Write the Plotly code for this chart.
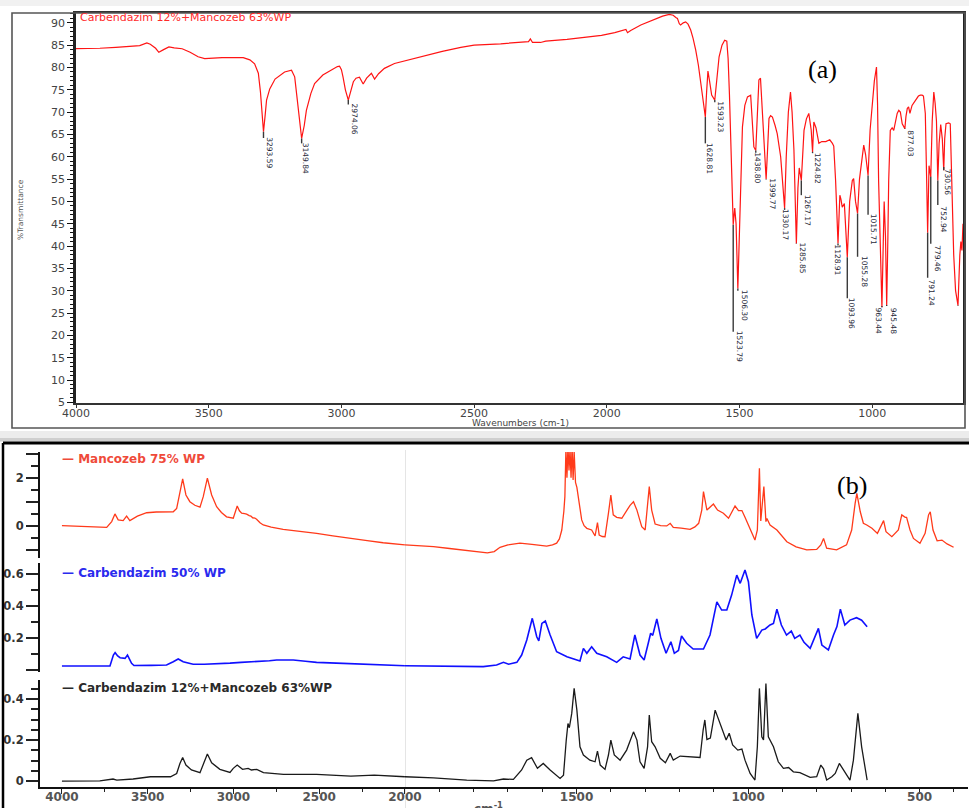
import plotly.graph_objects as go

W, H = 969, 808


def px(x):
    return x / W


def py(y):
    return 1 - y / H


# ---------------- panel (a): FTIR transmittance spectrum ----------------
a_title = "Carbendazim 12%+Mancozeb 63%WP"
a_wavenumber = [
    4000, 3950, 3910, 3850, 3800, 3760, 3733, 3720, 3700, 3688, 3670, 3650, 3630, 3600, 3570, 3540,
    3515, 3450, 3370, 3345, 3327, 3313, 3305, 3300, 3293.59, 3287, 3282, 3270, 3250, 3214, 3188, 3176,
    3168, 3163, 3149.84, 3140, 3132, 3115, 3101, 3070, 3040, 3015, 3007, 3000, 2994, 2985, 2974.06,
    2965, 2955, 2945, 2932, 2918, 2905, 2887, 2875, 2860, 2838, 2800, 2775, 2700, 2620, 2550, 2500,
    2400, 2330, 2295, 2288, 2280, 2250, 2230, 2150, 2080, 2020, 1970, 1935, 1928, 1922, 1910, 1872,
    1830, 1790, 1765, 1750, 1740, 1734, 1727, 1722, 1712, 1703, 1694, 1684, 1675, 1665, 1655, 1646,
    1638, 1628.81, 1624, 1619, 1613, 1605, 1593.23, 1585, 1577, 1566, 1556, 1548, 1543, 1538, 1533,
    1528, 1523.79, 1518, 1513, 1506.30, 1500, 1495, 1489, 1480, 1470, 1458, 1452, 1446, 1438.80, 1432,
    1427, 1421, 1415, 1408, 1399.77, 1394, 1389, 1383, 1376, 1366, 1358, 1345, 1338, 1330.17, 1324,
    1316, 1308, 1302, 1295, 1285.85, 1280, 1275, 1267.17, 1262, 1257, 1248, 1239, 1230, 1224.82, 1220,
    1212, 1201, 1190, 1175, 1160, 1150, 1145, 1138, 1128.91, 1122, 1118, 1113, 1105, 1093.96, 1085,
    1075, 1070, 1063, 1055.28, 1048, 1040, 1032, 1025, 1015.71, 1008, 1000, 992, 984, 980, 976, 970,
    963.44, 958, 955, 950, 945.48, 941, 938, 932, 925, 919, 912, 906, 900, 894, 887, 877.03, 873, 868,
    863, 858, 850, 838, 826, 819, 812, 807, 800, 795, 791.24, 786, 779.46, 774, 768, 763, 758, 752.94,
    748, 742, 736, 730.56, 727, 722, 712, 706, 700, 693, 686, 676.88, 670, 666, 662, 658,
]
a_transmittance = [
    84.2, 84.2, 84.3, 84.5, 84.7, 84.9, 85.5, 85.2, 84.3, 83.4, 84.0, 84.6, 84.4, 84.2, 83.4, 82.4,
    82.0, 82.2, 82.2, 81.7, 80.8, 78.7, 74.5, 70.4, 65.6, 69.5, 72.7, 75.2, 77.4, 79.0, 79.4, 77.9,
    74.0, 70.4, 64.1, 67.0, 70.4, 74.2, 76.4, 78.3, 79.4, 80.2, 80.3, 79.5, 77.9, 75.0, 72.7,
    74.9, 76.8, 77.6, 77.8, 76.3, 77.6, 78.7, 77.4, 78.6, 79.8, 80.9, 81.3, 82.4, 83.6, 84.5, 85.0,
    85.3, 85.6, 85.8, 86.4, 85.6, 85.6, 85.9, 86.3, 86.8, 87.2, 87.8, 88.4, 88.5, 87.8, 88.3, 89.5,
    90.5, 91.5, 91.9, 91.7, 91.2, 91.0, 89.8, 89.5, 90.0, 90.2, 89.7, 88.4, 86.5, 83.9, 80.5, 76.4,
    72.0, 68.9, 74.5, 79.2, 77.0, 73.8, 72.7, 77.5, 82.4, 85.0, 86.1, 85.9, 82.0, 74.0, 65.0,
    52.0, 44.8, 48.5, 45.0, 30.5, 45.0, 56.0, 66.7, 71.5, 73.4, 73.8, 68.5, 62.2, 61.4, 70.0,
    77.2, 77.6, 71.0, 62.0, 55.0, 62.0, 68.6, 69.2, 68.9, 67.0, 65.2, 60.0, 54.0, 48.5, 60.0,
    70.0, 74.5, 70.0, 61.5, 40.6, 53.0, 57.5, 54.7, 62.0, 65.9, 68.5, 69.7, 66.0, 61.1, 67.8,
    66.5, 63.0, 63.4, 63.4, 63.8, 63.0, 62.4, 54.7, 40.6, 51.4, 50.5, 48.7, 49.5, 37.5, 50.0,
    54.7, 55.1, 50.0, 47.3, 55.0, 59.5, 62.6, 60.5, 55.8, 66.0, 72.0, 77.0, 80.1, 72.0, 54.7, 38.0,
    26.3, 42.0, 50.0, 42.0, 26.8, 42.0, 54.7, 65.9, 66.5, 65.9, 68.5, 69.7, 70.4, 70.0, 67.4, 66.3, 69.0, 70.8,
    71.2, 69.7, 71.5, 72.7, 73.6, 73.8, 73.8, 73.6, 69.7, 55.0, 43.0, 58.0, 55.5, 68.0, 74.5, 72.0, 68.0, 54.7,
    63.0, 67.2, 64.0, 57.0, 64.0, 67.4, 67.6, 67.4, 54.7, 38.0, 30.0, 26.7, 38.0, 41.0, 39.0, 45.0,
]

# peak annotations: peak position / depth, and where the rotated label sits
peak_wn = [3293.59, 3149.84, 2974.06, 1628.81, 1593.23, 1523.79, 1506.30, 1438.80, 1399.77, 1330.17,
           1285.85, 1267.17, 1224.82, 1128.91, 1093.96, 1055.28, 1015.71, 963.44, 945.48, 877.03,
           791.24, 779.46, 752.94, 730.56, 676.88]
peak_T = [65.6, 64.1, 72.7, 68.9, 72.7, 44.8, 30.5, 61.4, 55.0, 48.5,
          40.6, 54.7, 61.1, 40.6, 37.5, 47.3, 55.8, 26.3, 26.8, 66.3,
          43.0, 55.5, 54.7, 57.0, 26.7]
label_wn = [3271, 3132, 2950, 1611, 1571, 1499, 1481, 1433, 1374, 1326,
            1264, 1245, 1207, 1129, 1075, 1029, 994, 978, 922, 859,
            775, 755, 732, 718, 645]
label_T = [60.9, 59.7, 68.4, 59.7, 68.9, 17.5, 26.7, 57.6, 51.6, 44.8,
           37.4, 48.1, 57.5, 36.8, 25.0, 34.3, 43.7, 23.3, 23.3, 63.1,
           29.6, 37.2, 45.9, 54.4, 23.5]

a_xticks = [4000, 3500, 3000, 2500, 2000, 1500, 1000]
a_yticks = list(range(5, 95, 5))

# ---------------- panel (b): three absorbance spectra ----------------
series_names = ["Mancozeb 75% WP", "Carbendazim 50% WP", "Carbendazim 12%+Mancozeb 63%WP"]

manc_wn = [
    4000, 3900, 3800, 3739, 3710, 3691, 3672, 3643, 3623, 3604, 3560, 3506, 3450, 3390, 3351, 3331,
    3312, 3296, 3277, 3254, 3225, 3195, 3176, 3152, 3127, 3098, 3070, 3040, 3001, 2990, 2978, 2965,
    2952, 2935, 2923, 2908, 2898, 2888, 2875, 2865, 2845, 2826, 2780, 2710, 2600, 2515, 2420, 2321,
    2220, 2127, 2060, 2000, 1950, 1917, 1870, 1820, 1785, 1760, 1740, 1723, 1700, 1665, 1630, 1600,
    1587, 1570, 1558, 1550, 1543, 1537, 1534, 1531, 1528, 1525, 1522, 1519, 1516, 1513, 1510, 1507,
    1503, 1499, 1495, 1490, 1485, 1478, 1470, 1456, 1450, 1446, 1439, 1434, 1425, 1417, 1407, 1400,
    1393, 1383, 1368, 1354, 1344, 1334, 1324, 1316, 1310, 1300, 1293, 1288, 1281, 1271, 1255, 1237,
    1227, 1218, 1195, 1169, 1155, 1144, 1135, 1130, 1120, 1110, 1101, 1089, 1072, 1057, 1048, 1038,
    1028, 1018, 1009, 994, 980, 973, 967, 963, 958, 954, 948, 945, 936, 916, 887, 860, 829, 800, 788,
    780, 771, 742, 713, 698, 688, 683, 673, 664, 654, 639, 623, 615, 605, 598, 581, 562, 552, 542,
    538, 528, 518, 499, 484, 474, 469, 461, 449, 435, 420, 401,
]
manc_abs = [
    0.0, -0.02, -0.05, -0.07, 0.17, 0.49, 0.24, 0.21, 0.40, 0.21, 0.40, 0.54, 0.57, 0.58, 0.58, 0.72,
    1.35, 1.95, 1.28, 1.00, 0.85, 0.77, 1.21, 1.98, 1.28, 0.79, 0.55, 0.37, 0.31, 0.55, 0.82, 0.62,
    0.52, 0.50, 0.48, 0.42, 0.40, 0.33, 0.32, 0.27, 0.12, 0.03, -0.06, -0.15, -0.24, -0.32, -0.42, -0.53,
    -0.62, -0.71, -0.76, -0.80, -0.84, -0.87, -0.95, -1.04, -1.10, -1.13, -1.08, -0.90, -0.80, -0.73, -0.78, -0.85,
    -0.85, -0.80, -0.73, -0.55, -0.18, 0.60, 1.21, 3.2, 2.0, 3.3, 2.3, 3.2, 2.0, 3.3, 1.9, 3.1,
    1.8, 1.6, 1.21, 0.60, 0.24, 0.0, -0.11, -0.18, -0.35, -0.43, 0.13, -0.39, -0.45, -0.46, 0.52, 1.28,
    0.45, 0.35, 0.31, 0.65, 0.85, 1.00, 0.65, 0.25, -0.04, -0.18, 0.79, 1.63, 0.65, 0.07, 0.0, -0.01,
    0.10, -0.07, -0.10, -0.15, -0.05, 0.10, 0.65, 1.42, 0.65, 0.79, 0.90, 0.65, 0.52, 0.31, 0.58, 0.82,
    0.63, 0.63, 0.35, -0.18, -0.60, -0.18, 2.39, 0.20, 1.21, 1.63, 0.17, 0.30, 0.03, -0.18, -0.67, -0.88, -1.01, -0.99, -0.80,
    -0.53, -0.94, -1.01, -0.80, -0.18, 0.93, 1.35, 0.58, 0.10, 0.03, -0.11, -0.32, -0.11, 0.21, -0.25, -0.46, -0.18, 0.45, 0.35,
    0.35, -0.18, -0.53, -0.73, -0.32, 0.45, 0.58, -0.18, -0.63, -0.60, -0.76, -0.90,
]

carb_wn = [
    4000, 3850, 3720, 3700, 3690, 3675, 3661, 3632, 3618, 3594, 3580, 3480, 3390, 3351, 3322, 3293,
    3235, 3170, 3099, 3020, 2956, 2900, 2845, 2790, 2748, 2700, 2651, 2580, 2515, 2400, 2296, 2150,
    2000, 1917, 1850, 1772, 1733, 1713, 1698, 1674, 1660, 1645, 1629, 1616, 1610, 1601, 1591, 1577,
    1558, 1528, 1490, 1480, 1470, 1456, 1441, 1412, 1383, 1364, 1344, 1330, 1315, 1303, 1291, 1284,
    1278, 1266, 1254, 1239, 1225, 1215, 1203, 1194, 1179, 1160, 1130, 1111, 1101, 1091, 1077, 1062,
    1048, 1033, 1023, 1009, 999, 989, 975, 960, 950, 936, 926, 916, 903, 888, 874, 864, 849, 837,
    819, 795, 785, 766, 751, 741, 731, 718, 703, 684, 669, 653,
]
carb_abs = [
    0.022, 0.022, 0.022, 0.091, 0.106, 0.085, 0.074, 0.070, 0.091, 0.039, 0.025, 0.026, 0.028, 0.049, 0.066, 0.049,
    0.033, 0.033, 0.035, 0.040, 0.045, 0.047, 0.049, 0.055, 0.060, 0.062, 0.060, 0.052, 0.045, 0.040, 0.035, 0.030,
    0.024, 0.022, 0.020, 0.018, 0.028, 0.045, 0.033, 0.045, 0.091, 0.186, 0.322, 0.206, 0.180, 0.290, 0.305, 0.217,
    0.112, 0.080, 0.053, 0.133, 0.102, 0.143, 0.102, 0.080, 0.045, 0.080, 0.066, 0.217, 0.091, 0.060, 0.165, 0.228,
    0.215, 0.318, 0.196, 0.102, 0.175, 0.102, 0.120, 0.211, 0.165, 0.129, 0.129, 0.217, 0.322, 0.426, 0.374, 0.374,
    0.468, 0.594, 0.542, 0.626, 0.552, 0.343, 0.196, 0.248, 0.255, 0.280, 0.290, 0.380, 0.280, 0.217, 0.242, 0.196, 0.217, 0.171,
    0.133, 0.259, 0.154, 0.123, 0.217, 0.270, 0.380, 0.280, 0.311, 0.326, 0.310, 0.269,
]

mix_wn = [
    4000, 3850, 3779, 3702, 3680, 3585, 3484, 3367, 3331, 3312, 3296, 3277, 3245, 3195, 3172, 3152,
    3127, 3079, 3020, 3001, 2978, 2947, 2914, 2895, 2864, 2825, 2708, 2515, 2315, 2179, 2000, 1917,
    1820, 1742, 1713, 1684, 1660, 1645, 1631, 1614, 1597, 1577, 1548, 1538, 1530, 1525, 1521, 1514,
    1507, 1499, 1490, 1480, 1461, 1446, 1439, 1431, 1417, 1407, 1400, 1390, 1373, 1354, 1334, 1324,
    1315, 1303, 1293, 1288, 1281, 1271, 1256, 1241, 1227, 1218, 1198, 1159, 1140, 1131, 1126, 1120,
    1110, 1096, 1079, 1064, 1055, 1045, 1030, 1018, 1009, 994, 980, 973, 967, 960, 955, 948, 941,
    926, 912, 897, 882, 868, 849, 819, 800, 788, 780, 771, 756, 746, 734, 722, 703, 693, 680, 669,
    660, 653,
]
mix_abs = [
    0.0, 0.0, 0.001, 0.010, 0.005, 0.010, 0.021, 0.021, 0.037, 0.086, 0.115, 0.078, 0.054, 0.041, 0.094, 0.132,
    0.089, 0.057, 0.042, 0.062, 0.078, 0.057, 0.062, 0.054, 0.057, 0.041, 0.033, 0.033, 0.024, 0.029, 0.021, 0.016,
    0.005, 0.001, 0.010, 0.008, 0.054, 0.102, 0.114, 0.062, 0.086, 0.054, 0.013, 0.029, 0.200, 0.281, 0.260, 0.330,
    0.452, 0.346, 0.167, 0.127, 0.102, 0.094, 0.146, 0.078, 0.057, 0.127, 0.200, 0.127, 0.102, 0.151, 0.240, 0.200,
    0.094, 0.062, 0.167, 0.322, 0.192, 0.167, 0.111, 0.089, 0.135, 0.102, 0.122, 0.119, 0.115, 0.249, 0.298, 0.203,
    0.210, 0.346, 0.265, 0.200, 0.233, 0.176, 0.151, 0.156, 0.102, 0.037, 0.005, 0.167, 0.452, 0.216, 0.200, 0.476, 0.216,
    0.167, 0.094, 0.062, 0.066, 0.045, 0.041, 0.018, 0.021, 0.078, 0.060, 0.005, 0.021, 0.037, 0.086, 0.054, 0.005, 0.102, 0.330, 0.167,
    0.078, 0.005,
]

b_xticks_left = [4000, 3500, 3000, 2500, 2000]
b_xminor_left = [3750, 3250, 2750, 2250]
b_xticks_right = [1500, 1000, 500]
b_xminor_right = [1900, 1800, 1700, 1600, 1400, 1300, 1200, 1100, 900, 800, 700, 600, 400]
manc_yticks, manc_yticktext = [-1, 0, 1, 2, 3], ["", "0", "", "2", ""]
manc_yminor = [-0.5, 0.5, 1.5, 2.5]
carb_yticks, carb_yticktext = [0.0, 0.2, 0.4, 0.6], ["", "0.2", "0.4", "0.6"]
carb_yminor = [0.1, 0.3, 0.5]
mix_yticks, mix_yticktext = [0.0, 0.2, 0.4], ["0", "0.2", "0.4"]
mix_yminor = [0.05, 0.1, 0.15, 0.25, 0.3, 0.35, 0.45]

BREAK = 2000  # instrument x-scale change (2000 cm-1)

fig = go.Figure()

# panel (a) curve
fig.add_trace(go.Scatter(x=a_wavenumber, y=a_transmittance, mode="lines",
                         line=dict(color="#ff1414", width=1.2), xaxis="x", yaxis="y",
                         hoverinfo="skip"))
# peak leaders
LABEL_HALF = 3.3
for wn, t, lt in zip(peak_wn, peak_T, label_T):
    fig.add_trace(go.Scatter(x=[wn, wn], y=[t, lt + LABEL_HALF], mode="lines",
                             line=dict(color="#3a3a3a", width=1.4), xaxis="x", yaxis="y",
                             hoverinfo="skip"))

# panel (b) curves, split at the scale break
b_specs = [
    (manc_wn, manc_abs, "y2", "#ff3a1a", 1.3, "#ef4a3a"),
    (carb_wn, carb_abs, "y3", "#1010ff", 1.6, "#2a2aee"),
    (mix_wn, mix_abs, "y4", "#1a1a1a", 1.3, "#2a2a2a"),
]
for wn, ab, yax, col, lw, _ in b_specs:
    lx = [w for w in wn if w >= BREAK]
    ly = [a for w, a in zip(wn, ab) if w >= BREAK]
    rx = [w for w in wn if w <= BREAK]
    ry = [a for w, a in zip(wn, ab) if w <= BREAK]
    fig.add_trace(go.Scatter(x=lx, y=ly, mode="lines", line=dict(color=col, width=lw),
                             xaxis="x2", yaxis=yax, hoverinfo="skip"))
    fig.add_trace(go.Scatter(x=rx, y=ry, mode="lines", line=dict(color=col, width=lw),
                             xaxis="x3", yaxis=yax, hoverinfo="skip"))

tick_a = dict(family="DejaVu Sans", size=11, color="#444444")
tick_b = dict(family="DejaVu Sans", size=12, color="#555555", weight="bold")
tick_by = dict(family="DejaVu Sans", size=11.5, color="#333333", weight="bold")

common = dict(showgrid=False, zeroline=False, automargin=False)

layout = dict(
    width=W, height=H, margin=dict(l=0, r=0, t=0, b=0, autoexpand=False),
    paper_bgcolor="white", plot_bgcolor="rgba(0,0,0,0)", showlegend=False,
    xaxis=dict(domain=[px(76), px(963)], range=[4000, 658], anchor="y",
               showline=True, linecolor="#333333", linewidth=2, mirror=True,
               ticks="outside", ticklen=3, tickcolor="#333333", ticklabelstandoff=-4,
               tickmode="array", tickvals=a_xticks, tickfont=tick_a, **common),
    yaxis=dict(domain=[py(403), py(13)], range=[4.85, 92.2], anchor="x",
               showline=True, linecolor="#222222", linewidth=2.5, mirror=True,
               ticks="outside", ticklen=6, tickcolor="#111111", tickwidth=1.3,
               tickmode="array", tickvals=a_yticks, tickfont=tick_a,
               minor=dict(dtick=1, tick0=0, ticklen=3, ticks="outside", tickcolor="#111111", tickwidth=1.2),
               **common),
    xaxis2=dict(domain=[px(40), px(405)], range=[4128, 1999.5], anchor="y4",
                showline=True, linecolor="#111111", linewidth=2,
                ticks="outside", ticklen=5, tickcolor="#222222", tickwidth=1.3, ticklabelstandoff=-7,
                tickmode="array", tickvals=b_xticks_left, tickfont=tick_b,
                minor=dict(tickmode="array", tickvals=b_xminor_left, ticklen=3, ticks="outside",
                           tickcolor="#222222"),
                **common),
    xaxis3=dict(domain=[px(405), px(968)], range=[2000, 359], anchor="y4",
                showline=True, linecolor="#111111", linewidth=2,
                ticks="outside", ticklen=5, tickcolor="#222222", tickwidth=1.3, ticklabelstandoff=-7,
                tickmode="array", tickvals=b_xticks_right, tickfont=tick_b,
                minor=dict(tickmode="array", tickvals=b_xminor_right, ticklen=3, ticks="outside",
                           tickcolor="#222222"),
                **common),
    yaxis2=dict(domain=[py(558), py(452)], range=[-1.346, 3.07], anchor="x2",
                showline=True, linecolor="#111111", linewidth=2,
                ticks="outside", ticklen=12, tickcolor="#222222", tickwidth=1.5,
                tickmode="array", tickvals=manc_yticks, ticktext=manc_yticktext, tickfont=tick_by,
                minor=dict(tickmode="array", tickvals=manc_yminor, ticklen=7, ticks="outside",
                           tickcolor="#222222"),
                **common),
    yaxis3=dict(domain=[py(672), py(563)], range=[-0.0157, 0.67], anchor="x2",
                showline=True, linecolor="#111111", linewidth=2,
                ticks="outside", ticklen=12, tickcolor="#222222", tickwidth=1.5,
                tickmode="array", tickvals=carb_yticks, ticktext=carb_yticktext, tickfont=tick_by,
                minor=dict(tickmode="array", tickvals=carb_yminor, ticklen=7, ticks="outside",
                           tickcolor="#222222"),
                **common),
    yaxis4=dict(domain=[py(787), py(680)], range=[-0.029, 0.493], anchor="x2",
                showline=True, linecolor="#111111", linewidth=2,
                ticks="outside", ticklen=12, tickcolor="#222222", tickwidth=1.5,
                tickmode="array", tickvals=mix_yticks, ticktext=mix_yticktext, tickfont=tick_by,
                minor=dict(tickmode="array", tickvals=mix_yminor, ticklen=7, ticks="outside",
                           tickcolor="#222222"),
                **common),
)
fig.update_layout(**layout)

shapes = [
    # faint top strip
    dict(type="rect", xref="paper", yref="paper", x0=0, x1=1, y0=py(6), y1=1,
         fillcolor="#f1f1f1", line=dict(width=0), layer="below"),
    # panel (a) outer frame
    dict(type="rect", xref="paper", yref="paper", x0=px(12), x1=px(965), y0=py(428), y1=py(13),
         line=dict(color="#555555", width=1.6), fillcolor="rgba(0,0,0,0)"),
    # shadow above panel (b)
    dict(type="rect", xref="paper", yref="paper", x0=0, x1=1, y0=py(438), y1=py(431),
         fillcolor="#ececec", line=dict(width=0), layer="below"),
    dict(type="rect", xref="paper", yref="paper", x0=0, x1=1, y0=py(441.5), y1=py(438),
         fillcolor="#cfcfcf", line=dict(width=0), layer="below"),
    # panel (b) frame lines
    dict(type="line", xref="paper", yref="paper", x0=px(3), x1=1, y0=py(443), y1=py(443),
         line=dict(color="#000000", width=3)),
    dict(type="line", xref="paper", yref="paper", x0=px(3), x1=px(3), y0=0, y1=py(443),
         line=dict(color="#000000", width=2.5)),
    # scale break marker at 2000 cm-1
    dict(type="line", xref="x3", yref="paper", x0=BREAK, x1=BREAK, y0=0, y1=py(450),
         line=dict(color="#dcdcdc", width=1.5), layer="below"),
]
fig.update_layout(shapes=shapes)

ann = []
# panel (a) texts
ann.append(dict(x=px(78), y=py(17.5), xref="paper", yref="paper", text=a_title, showarrow=False,
                xanchor="left", yanchor="middle",
                font=dict(family="DejaVu Sans", size=11, color="#ff2a2a")))
ann.append(dict(x=px(20), y=py(210), xref="paper", yref="paper", text="%Transmittance",
                showarrow=False, textangle=-90, xanchor="center", yanchor="middle",
                font=dict(family="DejaVu Sans", size=7.5, color="#555555")))
ann.append(dict(x=px(520), y=py(422.5), xref="paper", yref="paper", text="Wavenumbers (cm-1)",
                showarrow=False, xanchor="center", yanchor="middle",
                font=dict(family="DejaVu Sans", size=9, color="#444444")))
ann.append(dict(x=px(822), y=py(70), xref="paper", yref="paper", text="(a)", showarrow=False,
                xanchor="center", yanchor="middle",
                font=dict(family="Liberation Serif", size=26, color="#000000")))
for wn, lwn, lt in zip(peak_wn, label_wn, label_T):
    ann.append(dict(x=lwn, y=lt, xref="x", yref="y", text=f"{wn:.2f}", showarrow=False,
                    textangle=90, xanchor="center", yanchor="middle",
                    font=dict(family="DejaVu Sans", size=7.5, color="#2a2a3a")))

# panel (b) texts
legend_y = [459, 573, 688]
for (wn, ab, yax, col, lw, tcol), name, ly in zip(b_specs, series_names, legend_y):
    ann.append(dict(x=px(60), y=py(ly), xref="paper", yref="paper", text="— " + name,
                    showarrow=False, xanchor="left", yanchor="middle",
                    font=dict(family="DejaVu Sans", size=12, color=tcol, weight="bold")))
ann.append(dict(x=px(852), y=py(485), xref="paper", yref="paper", text="(b)", showarrow=False,
                xanchor="center", yanchor="middle",
                font=dict(family="Liberation Serif", size=26, color="#000000")))
ann.append(dict(x=px(488), y=py(798), xref="paper", yref="paper", text="cm<sup>-1</sup>",
                showarrow=False, xanchor="center", yanchor="top",
                font=dict(family="DejaVu Sans", size=12, color="#555555", weight="bold")))
fig.update_layout(annotations=ann)

fig.write_html("out.html", config={"displayModeBar": False},
               post_script="document.body.style.margin='0px';document.body.style.padding='0px';"
                           "document.documentElement.style.overflow='hidden';")
